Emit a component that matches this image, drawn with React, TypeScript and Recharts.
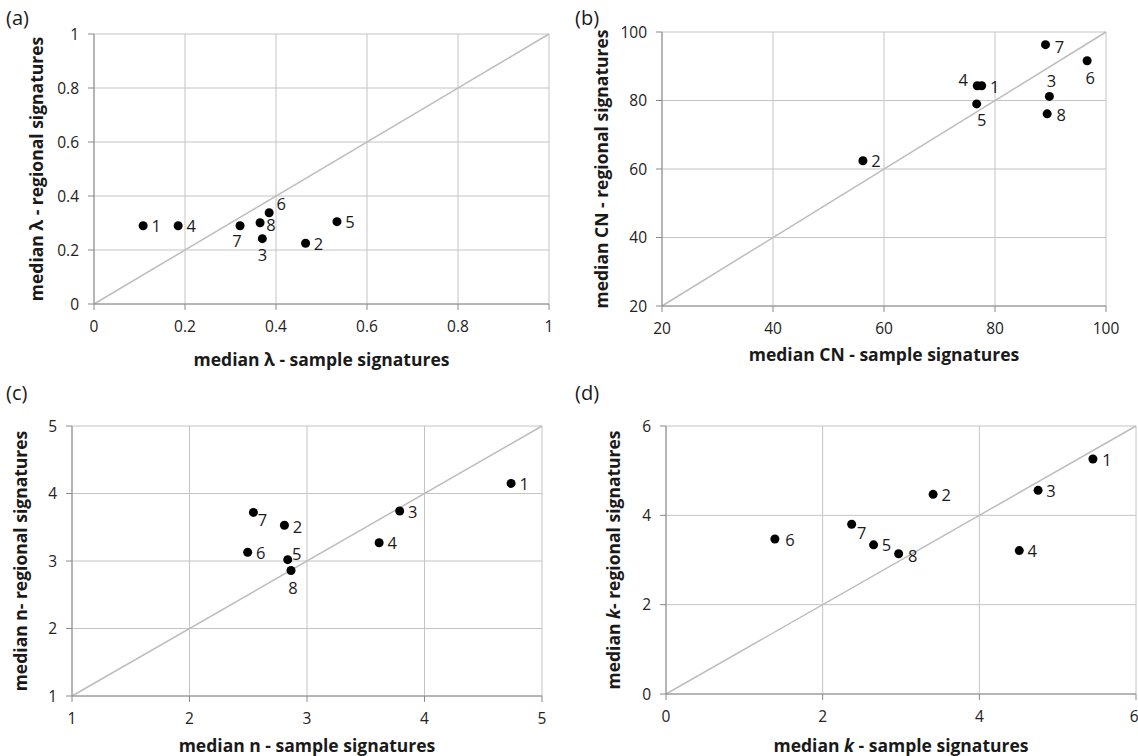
import React from 'react';
import { ScatterChart, Scatter, XAxis, YAxis, CartesianGrid, ReferenceLine } from 'recharts';

const FONT = '"Open Sans", "DejaVu Sans", sans-serif';

// catchment ids, same order in every array below
const pointIds = ['1', '2', '3', '4', '5', '6', '7', '8'];

// (a) lambda
const lambdaSample = [0.108, 0.465, 0.37, 0.185, 0.534, 0.385, 0.321, 0.365];
const lambdaRegional = [0.29, 0.225, 0.242, 0.29, 0.305, 0.338, 0.29, 0.301];
const lambdaTicks = [0, 0.2, 0.4, 0.6, 0.8, 1];

// (b) CN
const cnSample = [77.6, 56.2, 89.8, 76.8, 76.7, 96.6, 89.1, 89.4];
const cnRegional = [84.3, 62.4, 81.2, 84.3, 79.0, 91.6, 96.3, 76.1];
const cnTicks = [20, 40, 60, 80, 100];

// (c) n
const nSample = [4.737, 2.808, 3.789, 3.614, 2.836, 2.495, 2.544, 2.864];
const nRegional = [4.15, 3.53, 3.74, 3.27, 3.02, 3.13, 3.72, 2.86];
const nTicks = [1, 2, 3, 4, 5];

// (d) k
const kSample = [5.45, 3.41, 4.75, 4.51, 2.65, 1.39, 2.37, 2.97];
const kRegional = [5.26, 4.47, 4.56, 3.21, 3.34, 3.47, 3.8, 3.14];
const kTicks = [0, 2, 4, 6];

// where each point label sits relative to its dot (style only)
const offsetsA: Record<string, [number, number]> = {
  '1': [13, 0], '2': [13, 0], '3': [0, 16], '4': [13, 0],
  '5': [13, 0], '6': [12, -9], '7': [-3, 15], '8': [11, 2],
};
const offsetsB: Record<string, [number, number]> = {
  '1': [13, 1], '2': [13, 0], '3': [2, -16], '4': [-14, -6],
  '5': [5, 16], '6': [3, 17], '7': [14, 2], '8': [14, 1],
};
const offsetsC: Record<string, [number, number]> = {
  '1': [13, 0], '2': [13, 1], '3': [13, 0], '4': [13, 0],
  '5': [9, -6], '6': [13, 0], '7': [9, 7], '8': [2, 17],
};
const offsetsD: Record<string, [number, number]> = {
  '1': [14, 0], '2': [13, 0], '3': [13, 0], '4': [13, 0],
  '5': [13, 0], '6': [15, 0], '7': [10, 8], '8': [14, 2],
};

const W = 569;
const H = 378;
const YW = 50;
const XH = 30;

const makeShape = (offsets: Record<string, [number, number]>) => (props: any) => {
  const { cx, cy, payload } = props;
  const [dx, dy] = offsets[payload.id] ?? [13, 0];
  return (
    <g>
      <circle cx={cx} cy={cy} r={4.5} fill="#000" />
      <text
        x={cx + dx}
        y={cy + dy}
        textAnchor="middle"
        dominantBaseline="central"
        fontSize={16.5}
        fontFamily={FONT}
        fill="#1a1a1a"
      >
        {payload.id}
      </text>
    </g>
  );
};

interface PanelProps {
  left: number;
  top: number;
  letter: string;
  letterY: number;
  xs: number[];
  ys: number[];
  ticks: number[];
  margin: { top: number; right: number; bottom: number; left: number };
  offsets: Record<string, [number, number]>;
  xTitle: React.ReactNode;
  yTitle: React.ReactNode;
  xTitleY: number;
  yTitleX: number;
}

function Panel({ left, top, letter, letterY, xs, ys, ticks, margin, offsets, xTitle, yTitle, xTitleY, yTitleX }: PanelProps) {
  const data = pointIds.map((id, i) => ({ id, x: xs[i], y: ys[i] }));
  const lo = ticks[0];
  const hi = ticks[ticks.length - 1];
  const plotLeft = margin.left + YW;
  const plotRight = W - margin.right;
  const plotTop = margin.top;
  const plotBottom = H - margin.bottom - XH;
  const tickStyle = { fill: '#222', fontSize: 15.5, fontFamily: FONT };

  return (
    <div style={{ position: 'absolute', left, top, width: W, height: H }}>
      <ScatterChart width={W} height={H} margin={margin}>
        <CartesianGrid stroke="#c4c4c4" />
        <XAxis
          type="number"
          dataKey="x"
          domain={[lo, hi]}
          ticks={ticks}
          height={XH}
          tickSize={6}
          tickMargin={11}
          stroke="#8a8a8a"
          tick={tickStyle}
          allowDataOverflow
        />
        <YAxis
          type="number"
          dataKey="y"
          domain={[lo, hi]}
          ticks={ticks}
          width={YW}
          tickSize={6}
          tickMargin={9}
          stroke="#8a8a8a"
          tick={tickStyle}
          allowDataOverflow
        />
        <ReferenceLine
          segment={[{ x: lo, y: lo }, { x: hi, y: hi }]}
          stroke="#bdbdbd"
          strokeWidth={1.5}
          ifOverflow="visible"
        />
        <Scatter data={data} shape={makeShape(offsets)} isAnimationActive={false} />
      </ScatterChart>
      <svg
        width={W}
        height={H}
        style={{ position: 'absolute', left: 0, top: 0, pointerEvents: 'none' }}
      >
        <text x={6} y={letterY} fontSize={20} fontFamily={FONT} fill="#1a1a1a">
          {letter}
        </text>
        <text
          x={(plotLeft + plotRight) / 2}
          y={xTitleY}
          textAnchor="middle"
          dominantBaseline="central"
          fontSize={17.5}
          fontWeight="bold"
          fontFamily={FONT}
          fill="#1a1a1a"
        >
          {xTitle}
        </text>
        <text
          x={yTitleX}
          y={(plotTop + plotBottom) / 2}
          textAnchor="middle"
          dominantBaseline="central"
          fontSize={17.5}
          fontWeight="bold"
          fontFamily={FONT}
          fill="#1a1a1a"
          transform={`rotate(-90 ${yTitleX} ${(plotTop + plotBottom) / 2})`}
        >
          {yTitle}
        </text>
      </svg>
    </div>
  );
}

export default function App() {
  return (
    <div style={{ position: 'absolute', left: 0, top: 0, width: 1138, height: 756, background: '#fff' }}>
      <Panel
        left={0}
        top={0}
        letter="(a)"
        letterY={25}
        xs={lambdaSample}
        ys={lambdaRegional}
        ticks={lambdaTicks}
        margin={{ top: 34, right: 20, bottom: 44, left: 44 }}
        offsets={offsetsA}
        xTitle="median λ - sample signatures"
        yTitle="median λ - regional signatures"
        xTitleY={359}
        yTitleX={36}
      />
      <Panel
        left={569}
        top={0}
        letter="(b)"
        letterY={25}
        xs={cnSample}
        ys={cnRegional}
        ticks={cnTicks}
        margin={{ top: 32, right: 32, bottom: 42, left: 43 }}
        offsets={offsetsB}
        xTitle="median CN - sample signatures"
        yTitle="median CN - regional signatures"
        xTitleY={354}
        yTitleX={32}
      />
      <Panel
        left={0}
        top={378}
        letter="(c)"
        letterY={22}
        xs={nSample}
        ys={nRegional}
        ticks={nTicks}
        margin={{ top: 48, right: 27, bottom: 30, left: 22 }}
        offsets={offsetsC}
        xTitle="median n - sample signatures"
        yTitle="median n- regional signatures"
        xTitleY={367}
        yTitleX={20}
      />
      <Panel
        left={569}
        top={378}
        letter="(d)"
        letterY={22}
        xs={kSample}
        ys={kRegional}
        ticks={kTicks}
        margin={{ top: 48, right: 2, bottom: 32, left: 47 }}
        offsets={offsetsD}
        xTitle={
          <>
            median <tspan fontStyle="italic">k</tspan> - sample signatures
          </>
        }
        yTitle={
          <>
            median <tspan fontStyle="italic">k</tspan>- regional signatures
          </>
        }
        xTitleY={367}
        yTitleX={44}
      />
    </div>
  );
}
